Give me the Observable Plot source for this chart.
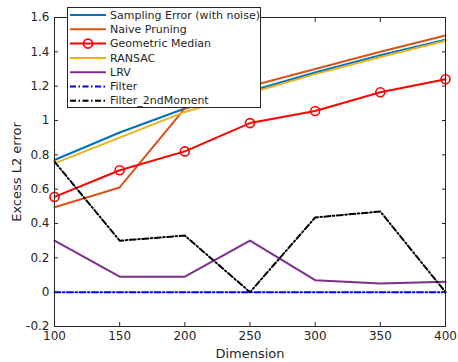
<!DOCTYPE html>
<html>
<head>
<meta charset="utf-8">
<script src="https://cdn.jsdelivr.net/npm/d3@7"></script>
<script src="https://cdn.jsdelivr.net/npm/@observablehq/plot@0.6"></script>
<style>
  body { margin: 0; background: #fff; }
  #wrap { position: relative; width: 458px; height: 362px; font-family: "DejaVu Sans", sans-serif; }
  #legend { position: absolute; left: 67px; top: 7px; }
</style>
</head>
<body>
<div id="wrap"></div>
<script>
const dims = [100, 150, 200, 250, 300, 350, 400];
const samplingError = [0.77, 0.93, 1.07, 1.17, 1.28, 1.38, 1.47];
const naivePruning = [0.495, 0.61, 1.07, 1.20, 1.30, 1.40, 1.495];
const geometricMedian = [0.555, 0.71, 0.82, 0.985, 1.055, 1.165, 1.24];
const ransac = [0.75, 0.90, 1.05, 1.16, 1.27, 1.37, 1.465];
const lrv = [0.30, 0.09, 0.09, 0.30, 0.07, 0.05, 0.06];
const filter = [0, 0, 0, 0, 0, 0, 0];
const filter2nd = [0.76, 0.30, 0.33, 0.0, 0.435, 0.47, 0.0];

const seriesNames = ["Sampling Error (with noise)", "Naive Pruning", "Geometric Median", "RANSAC", "LRV", "Filter", "Filter_2ndMoment"];
const seriesValues = [samplingError, naivePruning, geometricMedian, ransac, lrv, filter, filter2nd];
const seriesColors = ["#0072BD", "#D95319", "#FF0000", "#EDB120", "#7E2F8E", "#0000FF", "#000000"];
const seriesDash = [null, null, null, null, null, "6,2.5,1.5,2.5", "6,2.5,1.5,2.5"];
const seriesMarker = [false, false, true, false, false, false, false];

const xTicks = [100, 150, 200, 250, 300, 350, 400];
const yTicks = [-0.2, 0, 0.2, 0.4, 0.6, 0.8, 1, 1.2, 1.4, 1.6];
const xLabel = "Dimension";
const yLabel = "Excess L2 error";

const series = seriesNames.map((name, i) => ({
  name, color: seriesColors[i], dash: seriesDash[i], marker: seriesMarker[i],
  data: dims.map((x, j) => ({x, y: seriesValues[i][j]}))
}));

const fmtY = d => String(+d.toFixed(1)).replace("\u2212", "-");
const textColor = "#262626";
const fs = 12;

const marks = [];
for (const s of series) {
  marks.push(Plot.line(s.data, {x: "x", y: "y", stroke: s.color, strokeWidth: 2, strokeDasharray: s.dash || undefined}));
  if (s.marker) marks.push(Plot.dot(s.data, {x: "x", y: "y", r: 4.5, stroke: s.color, strokeWidth: 1.6, fill: "none"}));
}

const chart = Plot.plot({
  width: 458, height: 362,
  marginLeft: 54, marginRight: 13, marginTop: 17, marginBottom: 36,
  style: {fontFamily: "DejaVu Sans, sans-serif", color: textColor, background: "#fff"},
  x: {domain: [100, 400]},
  y: {domain: [-0.2, 1.6]},
  marks: [
    ...marks,
    Plot.frame({stroke: textColor, strokeWidth: 1}),
    Plot.axisX(xTicks, {anchor: "bottom", tickSize: 0, tickPadding: 5, tickFormat: d => String(d), fontSize: fs, fill: textColor, label: null}),
    Plot.axisX(xTicks, {anchor: "bottom", tickSize: -4, tickFormat: () => "", label: null, stroke: textColor}),
    Plot.axisX(xTicks, {anchor: "top", tickSize: -4, tickFormat: () => "", label: null, stroke: textColor}),
    Plot.axisY(yTicks, {anchor: "left", tickSize: 0, tickPadding: 5, tickFormat: fmtY, fontSize: fs, fill: textColor, label: null}),
    Plot.axisY(yTicks, {anchor: "left", tickSize: -4, tickFormat: () => "", label: null, stroke: textColor}),
    Plot.axisY(yTicks, {anchor: "right", tickSize: -4, tickFormat: () => "", label: null, stroke: textColor}),
    Plot.text([xLabel], {frameAnchor: "bottom", text: d => d, dy: 31, fontSize: 13, fill: textColor, textAnchor: "middle"}),
    Plot.text([yLabel], {frameAnchor: "left", text: d => d, dx: -38, rotate: -90, fontSize: 13, fill: textColor, textAnchor: "middle"})
  ]
});
document.getElementById("wrap").appendChild(chart);

// Legend
const lw = 194, lh = 101, rowH = 14.3;
const leg = d3.select("#wrap").append("svg").attr("id", "legend")
  .attr("width", lw).attr("height", lh);
leg.append("rect").attr("x", 0.5).attr("y", 0.5).attr("width", lw - 1).attr("height", lh - 1)
  .attr("fill", "#fff").attr("stroke", textColor).attr("stroke-width", 1);
const rows = leg.selectAll("g.row").data(series).join("g")
  .attr("transform", (d, i) => `translate(0,${8 + i * rowH})`);
rows.append("line").attr("x1", 3).attr("x2", 39).attr("y1", 0).attr("y2", 0)
  .attr("stroke", d => d.color).attr("stroke-width", 2)
  .attr("stroke-dasharray", d => d.dash);
rows.filter(d => d.marker).append("circle").attr("cx", 21).attr("cy", 0).attr("r", 4.5)
  .attr("fill", "none").attr("stroke", d => d.color).attr("stroke-width", 1.6);
rows.append("text").attr("x", 43).attr("y", 0).attr("dy", "0.33em")
  .attr("font-size", 11).attr("fill", textColor).attr("font-family", "DejaVu Sans, sans-serif")
  .text(d => d.name);
</script>
</body>
</html>
